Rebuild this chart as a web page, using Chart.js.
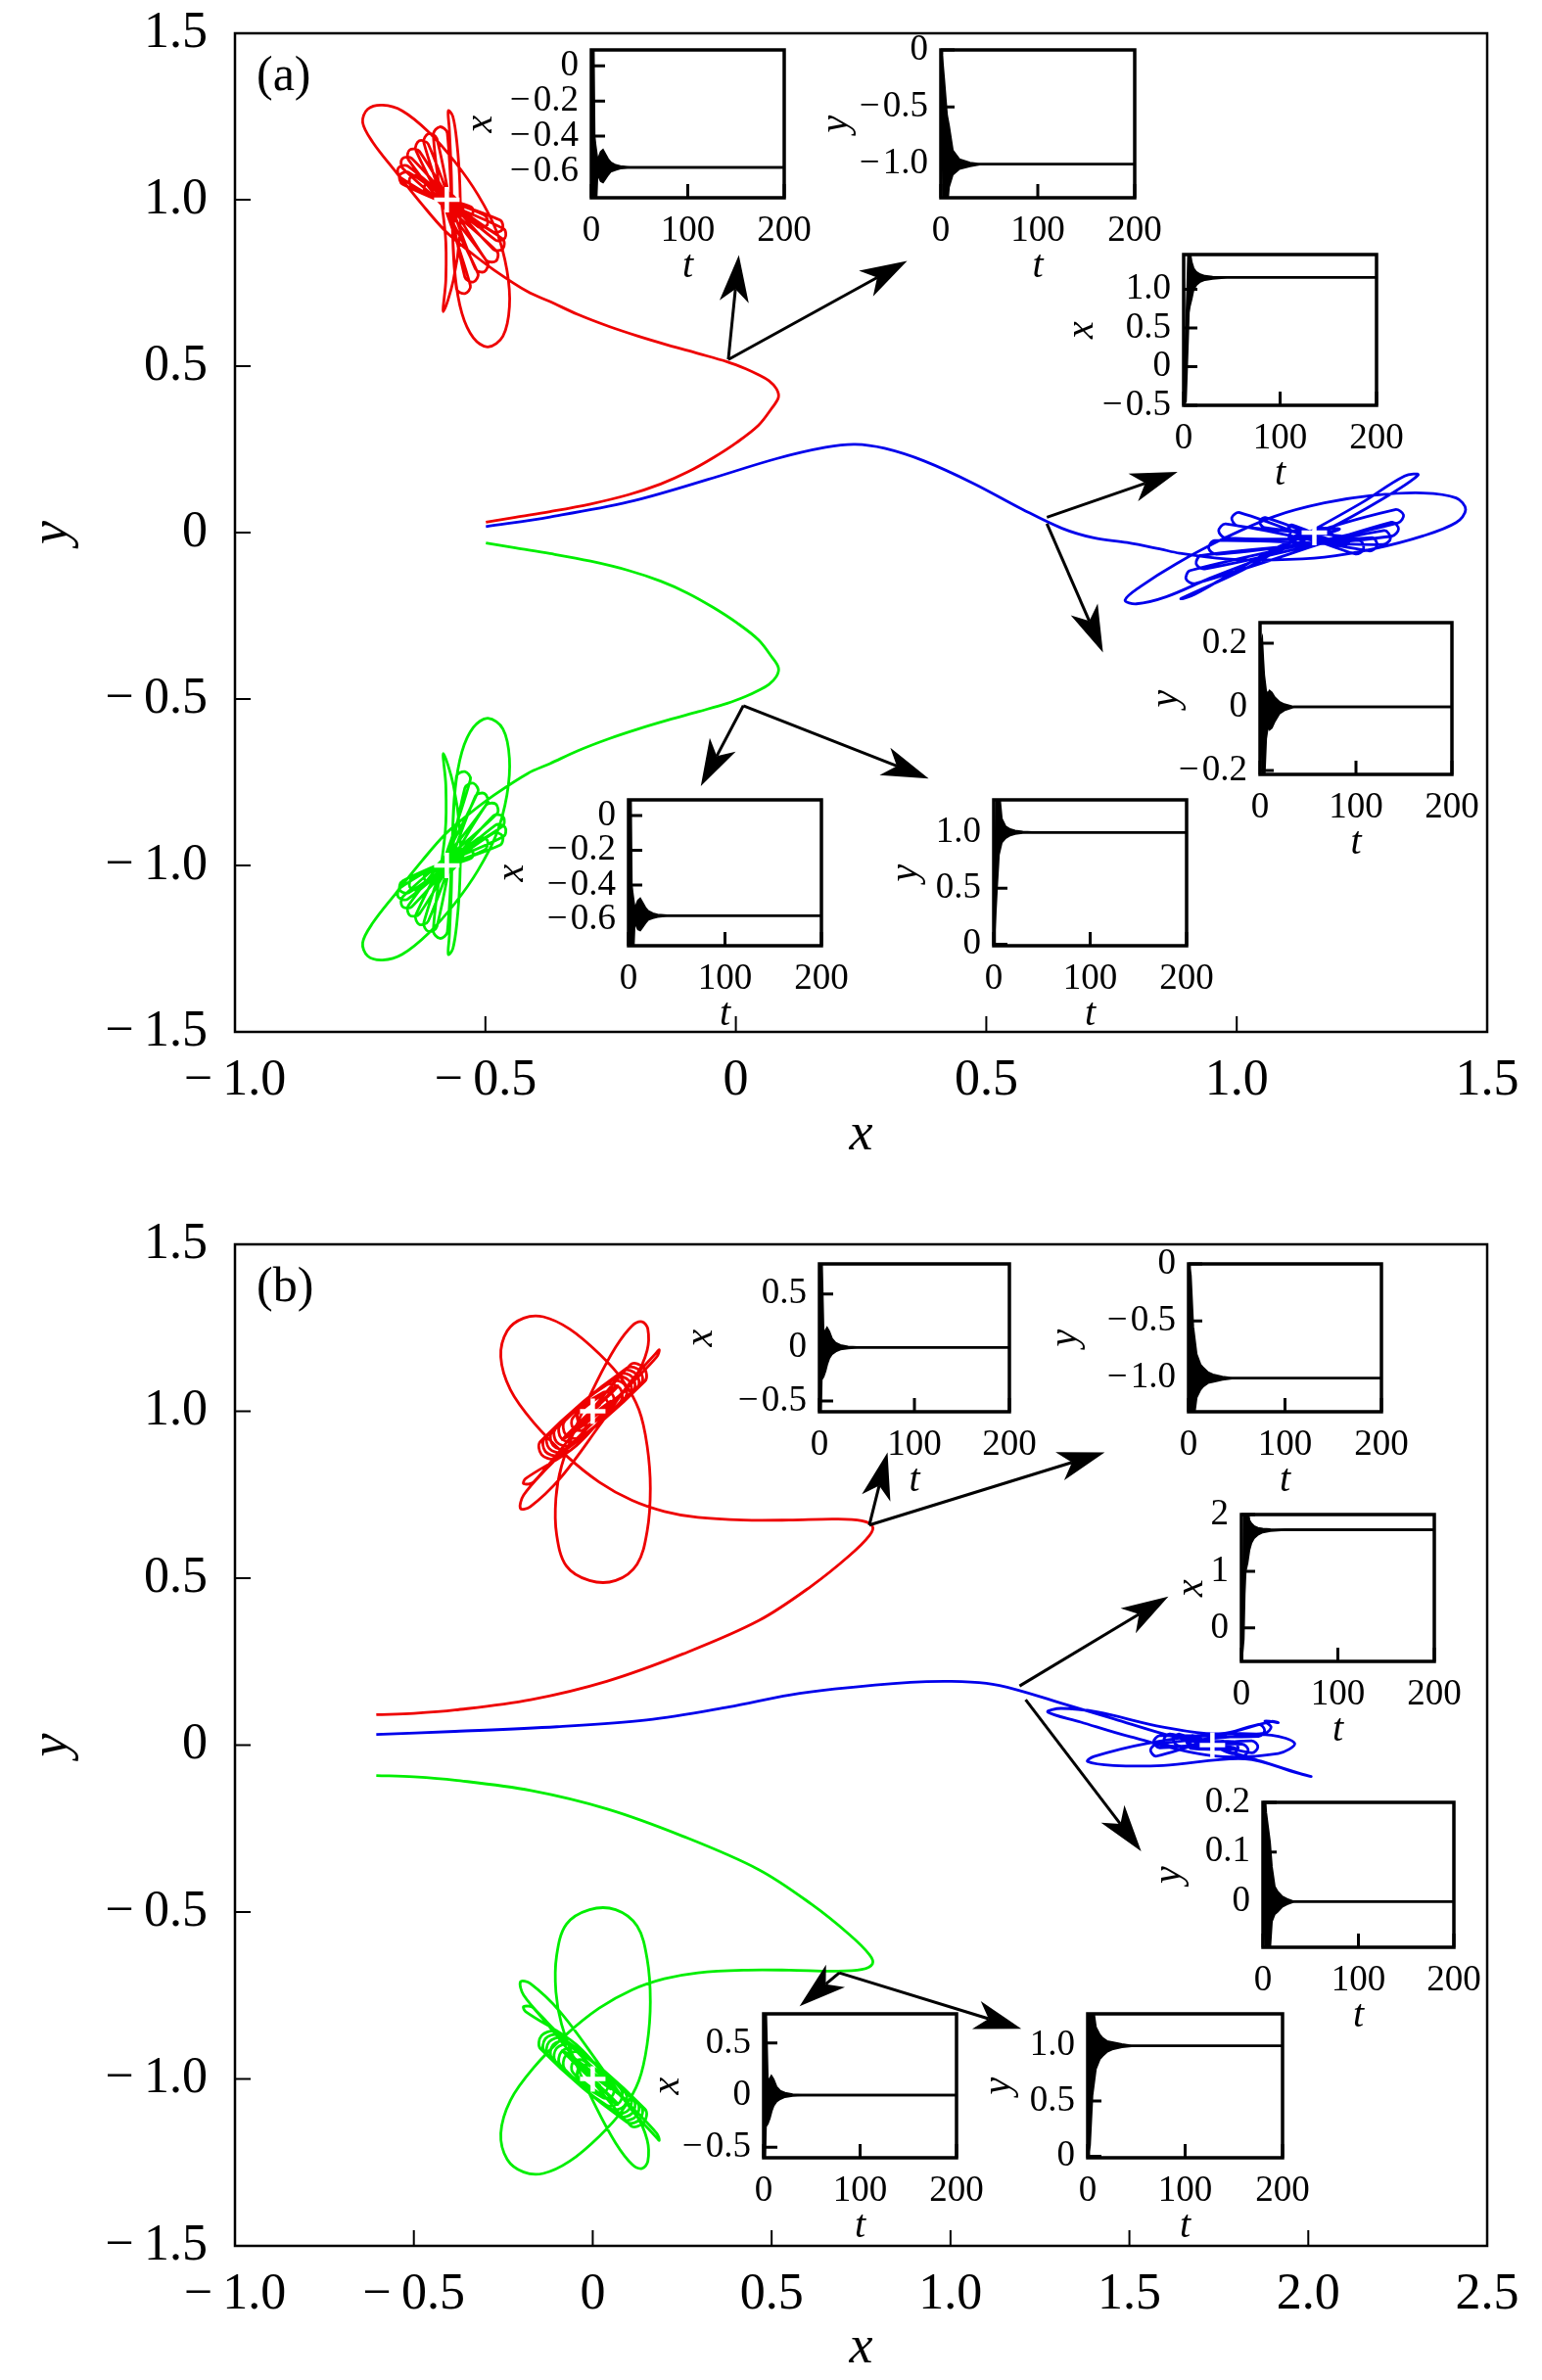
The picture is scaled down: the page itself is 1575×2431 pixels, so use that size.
<!DOCTYPE html>
<html><head><meta charset="utf-8">
<script src="https://cdn.jsdelivr.net/npm/chart.js@4.4.1/dist/chart.umd.min.js"></script>
<style>
html,body{margin:0;padding:0;background:#fff;}
#page{position:relative;width:1575px;height:2431px;overflow:hidden;background:#fff;}
canvas{position:absolute;}
</style></head><body><div id="page"></div>
<script>
// ---------------- data ----------------
const M = '\u2212\u2009', m = '\u2212\u200A';
const xTicksA = [-1.0,-0.5,0,0.5,1.0,1.5];
const xLabelsA = [M+'1.0',M+'0.5','0','0.5','1.0','1.5'];
const xTicksB = [-1.0,-0.5,0,0.5,1.0,1.5,2.0,2.5];
const xLabelsB = [M+'1.0',M+'0.5','0','0.5','1.0','1.5','2.0','2.5'];
const yTicksMain = [-1.5,-1.0,-0.5,0,0.5,1.0,1.5];
const yLabelsMain = [M+'1.5',M+'1.0',M+'0.5','0','0.5','1.0','1.5'];

const redA = [[-0.499,0.031],[-0.44,0.046],[-0.371,0.063],[-0.29,0.086],[-0.214,0.114],[-0.15,0.146],[-0.096,0.182],[-0.045,0.225],[0.002,0.271],[0.045,0.322],[0.071,0.372],[0.085,0.406],[0.081,0.432],[0.066,0.456],[0.045,0.474],[0.02,0.492],[-0.017,0.513],[-0.075,0.538],[-0.135,0.563],[-0.195,0.59],[-0.253,0.619],[-0.315,0.655],[-0.371,0.694],[-0.416,0.724],[-0.482,0.788],[-0.534,0.847],[-0.58,0.906],[-0.626,0.985],[-0.679,1.084],[-0.725,1.173],[-0.745,1.232],[-0.735,1.272],[-0.705,1.284],[-0.666,1.267],[-0.613,1.203],[-0.561,1.114],[-0.515,1.015],[-0.478,0.906],[-0.457,0.788],[-0.452,0.679],[-0.465,0.59],[-0.495,0.558],[-0.524,0.585],[-0.547,0.659],[-0.561,0.778],[-0.566,0.926],[-0.568,1.074],[-0.572,1.212],[-0.574,1.267],[-0.565,1.25],[-0.557,1.173],[-0.551,1.044],[-0.551,0.896],[-0.564,0.758],[-0.584,0.664],[-0.579,0.76],[-0.58,0.896],
[-0.604,1.196],[-0.591,1.219],[-0.576,1.2],[-0.558,0.734],[-0.541,0.718],[-0.53,0.742],
[-0.623,1.172],[-0.614,1.198],[-0.597,1.184],[-0.541,0.767],[-0.524,0.753],[-0.515,0.779],
[-0.639,1.149],[-0.632,1.177],[-0.614,1.167],[-0.52,0.792],[-0.502,0.784],[-0.496,0.812],
[-0.654,1.121],[-0.651,1.15],[-0.632,1.146],[-0.499,0.819],[-0.479,0.816],[-0.477,0.845],
[-0.665,1.094],[-0.666,1.123],[-0.647,1.124],[-0.484,0.851],[-0.465,0.853],[-0.466,0.883],
[-0.67,1.067],[-0.674,1.095],[-0.655,1.101],[-0.48,0.879],[-0.461,0.885],[-0.464,0.913],
[-0.665,1.046],[-0.671,1.074],[-0.653,1.082],[-0.484,0.903],[-0.466,0.911],[-0.471,0.939],
[-0.645,1.036],[-0.651,1.065],[-0.633,1.072],[-0.514,0.918],[-0.496,0.925],[-0.502,0.954],
[-0.619,1.022],[-0.621,1.043],[-0.607,1.048],[-0.54,0.952],[-0.526,0.957],[-0.528,0.978],
[-0.596,1.01],[-0.598,1.02],[-0.589,1.022],[-0.565,0.978],[-0.556,0.98],[-0.557,0.99],
[-0.612,1.045],[-0.565,1.012],[-0.542,0.955],[-0.589,0.988],[-0.607,1.035],[-0.565,1.008],[-0.547,0.965],[-0.589,0.992],[-0.597,1.025],[-0.569,1.005],[-0.557,0.975],[-0.585,0.995],[-0.577,1.0]];

const greenA = [[-0.499,-0.031],[-0.44,-0.046],[-0.371,-0.063],[-0.29,-0.086],[-0.214,-0.114],[-0.15,-0.146],[-0.096,-0.182],[-0.045,-0.225],[0.002,-0.271],[0.045,-0.322],[0.071,-0.372],[0.085,-0.406],[0.081,-0.432],[0.066,-0.456],[0.045,-0.474],[0.02,-0.492],[-0.017,-0.513],[-0.075,-0.538],[-0.135,-0.563],[-0.195,-0.59],[-0.253,-0.619],[-0.315,-0.655],[-0.371,-0.694],[-0.416,-0.724],[-0.482,-0.788],[-0.534,-0.847],[-0.58,-0.906],[-0.626,-0.985],[-0.679,-1.084],[-0.725,-1.173],[-0.745,-1.232],[-0.735,-1.272],[-0.705,-1.284],[-0.666,-1.267],[-0.613,-1.203],[-0.561,-1.114],[-0.515,-1.015],[-0.478,-0.906],[-0.457,-0.788],[-0.452,-0.679],[-0.465,-0.59],[-0.495,-0.558],[-0.524,-0.585],[-0.547,-0.659],[-0.561,-0.778],[-0.566,-0.926],[-0.568,-1.074],[-0.572,-1.212],[-0.574,-1.267],[-0.565,-1.25],[-0.557,-1.173],[-0.551,-1.044],[-0.551,-0.896],[-0.564,-0.758],[-0.584,-0.664],[-0.579,-0.76],[-0.58,-0.896],
[-0.604,-1.196],[-0.591,-1.219],[-0.576,-1.2],[-0.558,-0.734],[-0.541,-0.718],[-0.53,-0.742],
[-0.623,-1.172],[-0.614,-1.198],[-0.597,-1.184],[-0.541,-0.767],[-0.524,-0.753],[-0.515,-0.779],
[-0.639,-1.149],[-0.632,-1.177],[-0.614,-1.167],[-0.52,-0.792],[-0.502,-0.784],[-0.496,-0.812],
[-0.654,-1.121],[-0.651,-1.15],[-0.632,-1.146],[-0.499,-0.819],[-0.479,-0.816],[-0.477,-0.845],
[-0.665,-1.094],[-0.666,-1.123],[-0.647,-1.124],[-0.484,-0.851],[-0.465,-0.853],[-0.466,-0.883],
[-0.67,-1.067],[-0.674,-1.095],[-0.655,-1.101],[-0.48,-0.879],[-0.461,-0.885],[-0.464,-0.913],
[-0.665,-1.046],[-0.671,-1.074],[-0.653,-1.082],[-0.484,-0.903],[-0.466,-0.911],[-0.471,-0.939],
[-0.645,-1.036],[-0.651,-1.065],[-0.633,-1.072],[-0.514,-0.918],[-0.496,-0.925],[-0.502,-0.954],
[-0.619,-1.022],[-0.621,-1.043],[-0.607,-1.048],[-0.54,-0.952],[-0.526,-0.957],[-0.528,-0.978],
[-0.596,-1.01],[-0.598,-1.02],[-0.589,-1.022],[-0.565,-0.978],[-0.556,-0.98],[-0.557,-0.99],
[-0.612,-1.045],[-0.565,-1.012],[-0.542,-0.955],[-0.589,-0.988],[-0.607,-1.035],[-0.565,-1.008],[-0.547,-0.965],[-0.589,-0.992],[-0.597,-1.025],[-0.569,-1.005],[-0.557,-0.975],[-0.585,-0.995],[-0.577,-1.0]];

const blueA = [[-0.499,0.018],[-0.371,0.047],[-0.214,0.092],[-0.057,0.159],[0.081,0.222],[0.179,0.256],[0.238,0.265],[0.297,0.253],[0.376,0.215],[0.474,0.148],[0.572,0.07],[0.651,0.013],[0.715,-0.016],[0.781,-0.03],[0.846,-0.049],[0.886,-0.062],[0.978,-0.079],[1.076,-0.082],[1.175,-0.074],[1.273,-0.049],[1.372,-0.01],[1.438,0.03],[1.457,0.069],[1.438,0.104],[1.372,0.119],[1.273,0.112],[1.175,0.089],[1.076,0.049],[0.978,-0.015],[0.879,-0.094],[0.807,-0.163],[0.777,-0.203],[0.8,-0.214],[0.859,-0.193],[0.945,-0.138],[1.06,-0.07],[1.175,0.005],[1.29,0.1],[1.362,0.173],[1.335,0.17],[1.25,0.09],[1.12,-0.02],[1.01,-0.114],[0.889,-0.198],[0.91,-0.19],[0.97,-0.14],[1.109,-0.025],
[1.316,0.069],[1.333,0.053],[1.322,0.029],[0.907,-0.114],[0.899,-0.14],[0.917,-0.153],
[1.309,0.031],[1.323,0.011],[1.309,-0.011],[0.929,-0.069],[0.919,-0.094],[0.936,-0.109],
[1.294,0.006],[1.307,-0.017],[1.292,-0.036],[0.956,-0.024],[0.944,-0.047],[0.96,-0.065],
[1.27,-0.015],[1.28,-0.039],[1.264,-0.055],[0.978,0.026],[0.964,0.005],[0.978,-0.016],
[1.245,-0.024],[1.253,-0.051],[1.236,-0.064],[1.006,0.06],[0.99,0.044],[1.002,0.02],
[1.216,-0.012],[1.224,-0.028],[1.212,-0.038],[1.057,0.045],[1.046,0.033],[1.055,0.015],
[1.189,-0.005],[1.194,-0.015],[1.187,-0.021],[1.11,0.023],[1.103,0.016],[1.108,0.007],
[1.105,-0.02],[1.165,0.012],[1.205,0.01],[1.145,-0.012],[1.11,-0.015],[1.165,0.01],[1.2,0.008],[1.145,-0.01],[1.125,-0.01],[1.163,0.006],[1.185,0.005],[1.147,-0.006],[1.155,0.0]];

const redB = [[-0.605,0.091],[-0.5,0.095],[-0.385,0.105],[-0.173,0.136],[0.039,0.191],[0.252,0.273],[0.464,0.373],[0.612,0.477],[0.718,0.568],[0.773,0.627],[0.782,0.655],[0.752,0.672],[0.676,0.677],[0.549,0.674],[0.421,0.674],[0.294,0.682],[0.2,0.7],[0.11,0.733],[0.018,0.788],[-0.074,0.867],[-0.165,0.966],[-0.23,1.064],[-0.257,1.163],[-0.239,1.241],[-0.193,1.279],[-0.138,1.283],[-0.064,1.246],[0.018,1.172],[0.083,1.094],[0.129,1.005],[0.152,0.897],[0.161,0.769],[0.152,0.64],[0.124,0.542],[0.064,0.493],[-0.009,0.493],[-0.074,0.537],[-0.101,0.631],[-0.103,0.739],[-0.087,0.837],[-0.046,0.956],[0.009,1.084],[0.064,1.192],[0.11,1.256],[0.138,1.268],[0.154,1.246],[0.152,1.182],[0.119,1.103],[0.055,1.025],[-0.037,0.926],[-0.129,0.828],[-0.193,0.749],[-0.202,0.709],[-0.175,0.714],[-0.092,0.798],[0.018,0.956],[0.11,1.094],[0.175,1.172],[0.186,1.184],[0.179,1.163],[0.092,1.064],[-0.046,0.897],[-0.188,0.798],[-0.193,0.783],[-0.165,0.788],
[0.106,1.14],[0.143,1.13],[0.146,1.09],[-0.106,0.86],[-0.143,0.87],[-0.146,0.91],
[0.096,1.13],[0.132,1.121],[0.135,1.081],[-0.096,0.87],[-0.132,0.879],[-0.135,0.919],
[0.085,1.121],[0.122,1.111],[0.125,1.071],[-0.085,0.879],[-0.122,0.889],[-0.125,0.929],
[0.075,1.111],[0.111,1.102],[0.114,1.062],[-0.075,0.889],[-0.111,0.898],[-0.114,0.938],
[0.064,1.102],[0.101,1.092],[0.104,1.052],[-0.064,0.898],[-0.101,0.908],[-0.104,0.948],
[0.052,1.09],[0.088,1.081],[0.091,1.041],[-0.052,0.91],[-0.088,0.919],[-0.091,0.959],
[0.039,1.079],[0.076,1.069],[0.078,1.029],[-0.039,0.921],[-0.076,0.931],[-0.078,0.971],
[0.028,1.056],[0.055,1.05],[0.056,1.02],[-0.028,0.944],[-0.055,0.95],[-0.056,0.98],
[0.011,1.041],[0.038,1.035],[0.04,1.005],[-0.011,0.959],[-0.038,0.965],[-0.04,0.995],
[0.07,1.075],[-0.085,0.915],[0.09,1.06],[-0.07,0.93],[0.06,1.065],[-0.075,0.92],[0.08,1.05],[-0.06,0.94],[0.04,1.045],[-0.045,0.955],[0.05,1.03],[-0.035,0.965],[0.02,1.02],[-0.02,0.98],[0.0,1.0]];

const greenB = [[-0.605,-0.091],[-0.5,-0.095],[-0.385,-0.105],[-0.173,-0.136],[0.039,-0.191],[0.252,-0.273],[0.464,-0.373],[0.612,-0.477],[0.718,-0.568],[0.773,-0.627],[0.782,-0.655],[0.752,-0.672],[0.676,-0.677],[0.549,-0.674],[0.421,-0.674],[0.294,-0.682],[0.2,-0.7],[0.11,-0.733],[0.018,-0.788],[-0.074,-0.867],[-0.165,-0.966],[-0.23,-1.064],[-0.257,-1.163],[-0.239,-1.241],[-0.193,-1.279],[-0.138,-1.283],[-0.064,-1.246],[0.018,-1.172],[0.083,-1.094],[0.129,-1.005],[0.152,-0.897],[0.161,-0.769],[0.152,-0.64],[0.124,-0.542],[0.064,-0.493],[-0.009,-0.493],[-0.074,-0.537],[-0.101,-0.631],[-0.103,-0.739],[-0.087,-0.837],[-0.046,-0.956],[0.009,-1.084],[0.064,-1.192],[0.11,-1.256],[0.138,-1.268],[0.154,-1.246],[0.152,-1.182],[0.119,-1.103],[0.055,-1.025],[-0.037,-0.926],[-0.129,-0.828],[-0.193,-0.749],[-0.202,-0.709],[-0.175,-0.714],[-0.092,-0.798],[0.018,-0.956],[0.11,-1.094],[0.175,-1.172],[0.186,-1.184],[0.179,-1.163],[0.092,-1.064],[-0.046,-0.897],[-0.188,-0.798],[-0.193,-0.783],[-0.165,-0.788],
[0.106,-1.14],[0.143,-1.13],[0.146,-1.09],[-0.106,-0.86],[-0.143,-0.87],[-0.146,-0.91],
[0.096,-1.13],[0.132,-1.121],[0.135,-1.081],[-0.096,-0.87],[-0.132,-0.879],[-0.135,-0.919],
[0.085,-1.121],[0.122,-1.111],[0.125,-1.071],[-0.085,-0.879],[-0.122,-0.889],[-0.125,-0.929],
[0.075,-1.111],[0.111,-1.102],[0.114,-1.062],[-0.075,-0.889],[-0.111,-0.898],[-0.114,-0.938],
[0.064,-1.102],[0.101,-1.092],[0.104,-1.052],[-0.064,-0.898],[-0.101,-0.908],[-0.104,-0.948],
[0.052,-1.09],[0.088,-1.081],[0.091,-1.041],[-0.052,-0.91],[-0.088,-0.919],[-0.091,-0.959],
[0.039,-1.079],[0.076,-1.069],[0.078,-1.029],[-0.039,-0.921],[-0.076,-0.931],[-0.078,-0.971],
[0.028,-1.056],[0.055,-1.05],[0.056,-1.02],[-0.028,-0.944],[-0.055,-0.95],[-0.056,-0.98],
[0.011,-1.041],[0.038,-1.035],[0.04,-1.005],[-0.011,-0.959],[-0.038,-0.965],[-0.04,-0.995],
[0.07,-1.075],[-0.085,-0.915],[0.09,-1.06],[-0.07,-0.93],[0.06,-1.065],[-0.075,-0.92],[0.08,-1.05],[-0.06,-0.94],[0.04,-1.045],[-0.045,-0.955],[0.05,-1.03],[-0.035,-0.965],[0.02,-1.02],[-0.02,-0.98],[0.0,-1.0]];

const blueB = [[-0.605,0.032],[-0.385,0.041],[-0.1,0.055],[0.15,0.075],[0.379,0.114],[0.55,0.15],[0.676,0.168],[0.888,0.188],[1.003,0.191],[1.1,0.185],[1.181,0.167],[1.318,0.123],[1.456,0.079],[1.594,0.034],[1.732,-0.005],[1.87,-0.049],[1.989,-0.089],[2.008,-0.094],[1.971,-0.084],[1.824,-0.041],[1.594,-0.061],[1.456,-0.061],[1.383,-0.049],[1.401,-0.034],[1.548,0.005],[1.732,0.032],[1.897,0.03],[1.962,0.005],[1.916,-0.025],[1.732,-0.032],[1.502,0.025],[1.364,0.069],[1.272,0.099],[1.309,0.11],[1.41,0.099],[1.594,0.054],[1.75,0.034],[1.897,0.071],[1.916,0.067],
[1.879,0.072],[1.896,0.054],[1.879,0.036],[1.576,0.003],[1.559,-0.015],[1.576,-0.033],
[1.861,0.062],[1.878,0.044],[1.861,0.026],[1.585,0.028],[1.568,0.01],[1.585,-0.008],
[1.842,0.013],[1.859,-0.005],[1.842,-0.023],[1.613,0.033],[1.596,0.015],[1.613,-0.003],
[1.815,0.003],[1.832,-0.015],[1.815,-0.033],[1.64,0.033],[1.623,0.015],[1.64,-0.003],
[1.787,0.01],[1.804,-0.008],[1.787,-0.026],[1.677,0.028],[1.66,0.01],[1.677,-0.008],
[1.762,0.012],[1.774,0],[1.762,-0.012],[1.702,0.012],[1.69,0],[1.702,-0.012],
[1.66,0.012],[1.8,-0.01],[1.67,-0.01],[1.79,0.01],[1.69,0.008],[1.775,-0.008],[1.7,-0.006],[1.765,0.006],[1.732,0.0]];

const equilibriaA = [[-0.577,1.0],[1.155,0.0],[-0.577,-1.0]];
const equilibriaB = [[0.0,1.0],[1.732,0.0],[0.0,-1.0]];

const arrowsA = [[[-0.015,0.52],[0.006,0.834]],[[-0.015,0.52],[0.342,0.816]],[[0.621,0.046],[0.882,0.182]],[[0.621,0.027],[0.733,-0.36]],[[0.015,-0.52],[-0.07,-0.762]],[[0.015,-0.52],[0.385,-0.739]]];
const arrowsB = [[[0.773,0.659],[0.824,0.877]],[[0.773,0.659],[1.431,0.877]],[[1.193,0.177],[1.609,0.445]],[[1.21,0.136],[1.533,-0.318]],[[0.689,-0.682],[0.578,-0.782]],[[0.689,-0.682],[1.198,-0.85]]];

// inset time series: upper / lower envelope of the dense oscillation
const insetTTicks = [0,100,200];
const insetTLabels = ['0','100','200'];

const a1T  = [0,1,2,3,4,6,8,10,12,14,17,20,25,30,40,200];
const a1Up = [-0.5,0.2,0.2,-0.4,-0.45,-0.53,-0.52,-0.49,-0.48,-0.5,-0.53,-0.55,-0.565,-0.572,-0.577,-0.577];
const a1Lo = [-0.5,-0.5,-0.9,-0.9,-0.9,-0.62,-0.63,-0.655,-0.66,-0.645,-0.62,-0.6,-0.59,-0.582,-0.577,-0.577];
const a2T  = [0,1,3,6,8,12,19,30,40,200];
const a2Up = [0,-0.05,-0.25,-0.57,-0.66,-0.88,-0.96,-0.99,-1.0,-1.0];
const a2Lo = [0,-0.4,-1.4,-1.4,-1.2,-1.09,-1.04,-1.015,-1.0,-1.0];
const a3T  = [0,2,4,5,6,8,10,13,17,22,30,45,200];
const a3Up = [-0.5,0.2,1.0,1.5,1.5,1.35,1.27,1.22,1.19,1.17,1.16,1.155,1.155];
const a3Lo = [-0.5,-0.45,0.3,0.7,0.78,0.88,1.0,1.06,1.1,1.125,1.14,1.155,1.155];
const a4T  = [0,1,2,3,4,6,8,10,12,15,20,25,35,200];
const a4Up = [0.02,0.2,0.21,0.15,0.1,0.05,0.04,0.05,0.045,0.03,0.015,0.008,0,0];
const a4Lo = [0.02,0,-0.1,-0.25,-0.25,-0.1,-0.06,-0.07,-0.065,-0.045,-0.02,-0.01,0,0];
const a5T  = [0,1,2,3,4,6,8,10,12,14,17,20,25,30,40,200];
const a5Up = [-0.5,0.2,0.2,-0.4,-0.45,-0.53,-0.52,-0.49,-0.48,-0.5,-0.53,-0.55,-0.565,-0.572,-0.577,-0.577];
const a5Lo = [-0.5,-0.5,-0.9,-0.9,-0.9,-0.62,-0.63,-0.655,-0.66,-0.645,-0.62,-0.6,-0.59,-0.582,-0.577,-0.577];
const a6T  = [0,1,3,5,8,12,17,22,30,40,200];
const a6Up = [0,0.3,1.4,1.4,1.12,1.05,1.025,1.012,1.004,1.0,1.0];
const a6Lo = [0,0,0.5,0.8,0.91,0.95,0.975,0.988,0.996,1.0,1.0];
const b1T  = [0,1,2,4,6,8,10,13,17,22,30,40,200];
const b1Up = [-0.6,0.1,0.9,0.12,0.15,0.18,0.15,0.08,0.04,0.02,0.005,0,0];
const b1Lo = [-0.6,-0.7,-0.3,-0.27,-0.22,-0.15,-0.1,-0.06,-0.035,-0.015,-0.005,0,0];
const b2T  = [0,1,2,4.5,8,12,15,20,25,35,45,200];
const b2Up = [0,-0.04,-0.1,-0.55,-0.79,-0.88,-0.91,-0.95,-0.97,-0.99,-1.0,-1.0];
const b2Lo = [0,-0.6,-1.4,-1.4,-1.17,-1.1,-1.07,-1.04,-1.03,-1.012,-1.0,-1.0];
const b3T  = [0,2,3,4,6,8,10,13,17,22,30,45,200];
const b3Up = [-0.6,0.5,2.1,2.1,2.1,1.9,1.84,1.79,1.76,1.745,1.737,1.732,1.732];
const b3Lo = [-0.6,-0.2,0.6,1.0,1.15,1.38,1.5,1.59,1.65,1.69,1.715,1.732,1.732];
const b4T  = [0,1,2,3,5,7,9,12,15,20,25,32,200];
const b4Up = [0.032,0.21,0.21,0.18,0.15,0.12,0.07,0.03,0.02,0.01,0.005,0,0];
const b4Lo = [0.032,0,-0.05,-0.1,-0.1,-0.1,-0.04,-0.025,-0.02,-0.01,-0.005,0,0];
const b5T  = [0,1,2,4,6,8,10,13,17,22,30,40,200];
const b5Up = [-0.6,0.1,0.9,0.12,0.15,0.18,0.15,0.08,0.04,0.02,0.005,0,0];
const b5Lo = [-0.6,-0.7,-0.3,-0.27,-0.22,-0.15,-0.1,-0.06,-0.035,-0.015,-0.005,0,0];
const b6T  = [0,1,2,4.5,8,12,15,20,25,35,45,200];
const b6Up = [0,0.6,1.4,1.4,1.17,1.1,1.07,1.04,1.03,1.012,1.0,1.0];
const b6Lo = [0,0.04,0.1,0.55,0.79,0.88,0.91,0.95,0.97,0.99,1.0,1.0];

const ticksX06 = [0,-0.2,-0.4,-0.6], labelsX06 = ['0',m+'0.2',m+'0.4',m+'0.6'];
const ticksY10n = [0,-0.5,-1.0], labelsY10n = ['0',m+'0.5',m+'1.0'];
const ticksX115 = [1.0,0.5,0,-0.5], labelsX115 = ['1.0','0.5','0',m+'0.5'];
const ticksY02 = [0.2,0,-0.2], labelsY02 = ['0.2','0',m+'0.2'];
const ticksY10p = [1.0,0.5,0], labelsY10p = ['1.0','0.5','0'];
const ticksX05 = [0.5,0,-0.5], labelsX05 = ['0.5','0',m+'0.5'];
const ticksX2 = [2,1,0], labelsX2 = ['2','1','0'];
const ticksY01 = [0.2,0.1,0], labelsY01 = ['0.2','0.1','0'];

// ---------------- layout / style ----------------
const FONT = '"Liberation Serif", "DejaVu Serif", serif';
const RED = 'rgb(238,0,0)', BLUE = 'rgb(0,0,235)', GREEN = 'rgb(0,238,0)';
const page = document.getElementById('page');
const toXY = a => a.map(p => ({x:p[0], y:p[1]}));
const series = (t, v) => t.map((tt,i) => ({x:tt, y:v[i]}));

function drawArrow(ctx, x0, y0, x1, y1){
  const ang = Math.atan2(y1-y0, x1-x0);
  const L = 48, W = 15, N = 13;
  const bx = x1 - (L-N)*Math.cos(ang), by = y1 - (L-N)*Math.sin(ang);
  ctx.beginPath(); ctx.moveTo(x0,y0); ctx.lineTo(bx,by);
  ctx.lineWidth = 3; ctx.strokeStyle = '#000'; ctx.stroke();
  ctx.save(); ctx.translate(x1,y1); ctx.rotate(ang);
  ctx.beginPath(); ctx.moveTo(0,0); ctx.lineTo(-L,W); ctx.lineTo(-L+N,0); ctx.lineTo(-L,-W); ctx.closePath();
  ctx.fillStyle = '#000'; ctx.fill(); ctx.restore();
}

function makeMain(cfg){
  const c = document.createElement('canvas');
  c.width = 1575; c.height = cfg.h;
  c.style.left = '0px'; c.style.top = cfg.top + 'px';
  c.style.width = '1575px'; c.style.height = cfg.h + 'px';
  page.appendChild(c);
  const decor = {
    id: 'decor',
    afterDatasetsDraw(chart){
      const ctx = chart.ctx, xs = chart.scales.x, ys = chart.scales.y;
      ctx.save();
      cfg.arrows.forEach(a => drawArrow(ctx, xs.getPixelForValue(a[0][0]), ys.getPixelForValue(a[0][1]), xs.getPixelForValue(a[1][0]), ys.getPixelForValue(a[1][1])));
      ctx.restore();
    },
    afterDraw(chart){
      const ctx = chart.ctx, ca = chart.chartArea, xs = chart.scales.x, ys = chart.scales.y;
      ctx.save();
      ctx.strokeStyle = '#000'; ctx.lineWidth = 2.5;
      ctx.strokeRect(ca.left, ca.top, ca.right-ca.left, ca.bottom-ca.top);
      ctx.lineWidth = 2;
      ctx.beginPath();
      cfg.xt.forEach(v => { const p = xs.getPixelForValue(v); ctx.moveTo(p, ca.bottom); ctx.lineTo(p, ca.bottom-16); });
      yTicksMain.forEach(v => { const p = ys.getPixelForValue(v); ctx.moveTo(ca.left, p); ctx.lineTo(ca.left+16, p); });
      ctx.stroke();
      ctx.fillStyle = '#000'; ctx.font = '50px ' + FONT; ctx.textBaseline = 'middle'; ctx.textAlign = 'left';
      ctx.fillText(cfg.label, ca.left + 22, ca.top + 45);
      ctx.restore();
    }
  };
  const datasets = [{data: toXY(cfg.eq), showLine:false, pointStyle:'cross', pointRadius:13, pointHoverRadius:13,
                     pointBorderColor:'#fff', pointBackgroundColor:'#fff', pointBorderWidth:4.5, order:0}];
  cfg.curves.forEach(cv => datasets.push({data: toXY(cv[0]), borderColor: cv[1], borderWidth: 2.8,
                     pointRadius:0, tension:0.35, fill:false, order:1}));
  new Chart(c, {
    type:'line',
    data:{datasets},
    options:{
      responsive:false, animation:false, devicePixelRatio:1, events:[],
      layout:{padding:{top:cfg.area[0], right:1575-cfg.area[2], left:0, bottom:0}},
      plugins:{legend:{display:false}, tooltip:{enabled:false}},
      scales:{
        x:{type:'linear', min:cfg.xr[0], max:cfg.xr[1], grid:{display:false}, border:{display:false},
           afterBuildTicks: s => { s.ticks = cfg.xt.map(v => ({value:v})); },
           afterFit: s => { s.height = cfg.h - cfg.area[1]; s.paddingLeft = 0; s.paddingRight = 0; },
           ticks:{autoSkip:false, maxRotation:0, padding:11, color:'#000', font:{family:FONT, size:52}, callback:(v,i)=>cfg.xl[i]},
           title:{display:true, text:'x', color:'#000', font:{family:FONT, size:54, style:'italic'}, padding:{top:0, bottom:cfg.xTitlePad}}},
        y:{type:'linear', min:-1.5, max:1.5, grid:{display:false}, border:{display:false},
           afterBuildTicks: s => { s.ticks = yTicksMain.map(v => ({value:v})); },
           afterFit: s => { s.width = 240; s.paddingTop = 0; s.paddingBottom = 0; },
           ticks:{autoSkip:false, padding:20, color:'#000', font:{family:FONT, size:52}, callback:(v,i)=>yLabelsMain[i]},
           title:{display:true, text:'y', color:'#000', font:{family:FONT, size:54, style:'italic'}, padding:{top:21, bottom:0}}}
      }
    },
    plugins:[decor]
  });
}

function makeInset(ins){
  const [L0,T0,R0,B0] = ins.frame;
  const LP = 150, TP = 26, RP = 46, BP = 100;
  const w = R0-L0+LP+RP, h = B0-T0+TP+BP;
  const c = document.createElement('canvas');
  c.width = w; c.height = h;
  c.style.left = (L0-LP)+'px'; c.style.top = (T0-TP)+'px';
  c.style.width = w+'px'; c.style.height = h+'px';
  page.appendChild(c);
  const frame = {
    id:'frame',
    afterDraw(chart){
      const ctx = chart.ctx, ca = chart.chartArea, xs = chart.scales.x, ys = chart.scales.y;
      ctx.save(); ctx.strokeStyle = '#000';
      ctx.lineWidth = 3.5;
      ctx.strokeRect(ca.left, ca.top, ca.right-ca.left, ca.bottom-ca.top);
      ctx.lineWidth = 3;
      ctx.beginPath();
      ins.yt.forEach(v => { const p = ys.getPixelForValue(v); ctx.moveTo(ca.left, p); ctx.lineTo(ca.left+14, p); });
      insetTTicks.forEach(v => { const p = xs.getPixelForValue(v); ctx.moveTo(p, ca.bottom); ctx.lineTo(p, ca.bottom-14); });
      ctx.stroke(); ctx.restore();
    }
  };
  new Chart(c, {
    type:'line',
    data:{datasets:[
      {data: series(ins.t, ins.up), borderColor:'#000', borderWidth:2.5, pointRadius:0, tension:0, fill:false},
      {data: series(ins.t, ins.lo), borderColor:'#000', borderWidth:2.5, pointRadius:0, tension:0, fill:'-1', backgroundColor:'#000'}
    ]},
    options:{
      responsive:false, animation:false, devicePixelRatio:1, events:[],
      layout:{padding:{top:TP, right:RP, left:0, bottom:0}},
      plugins:{legend:{display:false}, tooltip:{enabled:false}},
      scales:{
        x:{type:'linear', min:0, max:200, grid:{display:false}, border:{display:false},
           afterBuildTicks: s => { s.ticks = insetTTicks.map(v => ({value:v})); },
           afterFit: s => { s.height = BP; s.paddingLeft = 0; s.paddingRight = 0; },
           ticks:{autoSkip:false, maxRotation:0, padding:4, color:'#000', font:{family:FONT, size:37}, callback:(v,i)=>insetTLabels[i]},
           title:{display:true, text:'t', color:'#000', font:{family:FONT, size:40, style:'italic'}, padding:{top:0, bottom:6}}},
        y:{type:'linear', min:ins.yr[0], max:ins.yr[1], grid:{display:false}, border:{display:false},
           afterBuildTicks: s => { s.ticks = ins.yt.map(v => ({value:v})); },
           afterFit: s => { s.width = LP; s.paddingTop = 0; s.paddingBottom = 0; },
           ticks:{autoSkip:false, padding:5, color:'#000', font:{family:FONT, size:37}, callback:(v,i)=>ins.yl[i]},
           title:{display:true, text:ins.lab, color:'#000', font:{family:FONT, size:40, style:'italic'}, padding:{top:LP-ins.d-24, bottom:0}}}
      }
    },
    plugins:[frame]
  });
}

makeMain({top:0, h:1230, area:[34,1054,1519], xr:[-1,1.5], xt:xTicksA, xl:xLabelsA, xTitlePad:38,
          curves:[[greenA,GREEN],[blueA,BLUE],[redA,RED]], eq:equilibriaA, arrows:arrowsA, label:'(a)'});
makeMain({top:1230, h:1201, area:[41,1064,1519], xr:[-1,2.5], xt:xTicksB, xl:xLabelsB, xTitlePad:0,
          curves:[[greenB,GREEN],[blueB,BLUE],[redB,RED]], eq:equilibriaB, arrows:arrowsB, label:'(b)'});

const insets = [
  {frame:[604,51,801,202],    d:113, lab:'x', t:a1T, up:a1Up, lo:a1Lo, yr:[-0.75,0.09],   yt:ticksX06,  yl:labelsX06},
  {frame:[961,51,1159,202],   d:107, lab:'y', t:a2T, up:a2Up, lo:a2Lo, yr:[-1.294,0],     yt:ticksY10n, yl:labelsY10n},
  {frame:[1209,260,1406,414], d:104, lab:'x', t:a3T, up:a3Up, lo:a3Lo, yr:[-0.5,1.45],    yt:ticksX115, yl:labelsX115},
  {frame:[1287,636,1483,791], d:96,  lab:'y', t:a4T, up:a4Up, lo:a4Lo, yr:[-0.212,0.265], yt:ticksY02,  yl:labelsY02},
  {frame:[642,817,839,966],   d:119, lab:'x', t:a5T, up:a5Up, lo:a5Lo, yr:[-0.75,0.09],   yt:ticksX06,  yl:labelsX06},
  {frame:[1015,817,1212,966], d:90,  lab:'y', t:a6T, up:a6Up, lo:a6Lo, yr:[-0.014,1.29],  yt:ticksY10p, yl:labelsY10p},
  {frame:[837,1291,1031,1442],d:121, lab:'x', t:b1T, up:b1Up, lo:b1Lo, yr:[-0.6,0.78],    yt:ticksX05,  yl:labelsX05},
  {frame:[1214,1291,1411,1442],d:126,lab:'y', t:b2T, up:b2Up, lo:b2Lo, yr:[-1.294,0],     yt:ticksY10n, yl:labelsY10n},
  {frame:[1268,1547,1465,1697],d:51, lab:'x', t:b3T, up:b3Up, lo:b3Lo, yr:[-0.59,2.0],    yt:ticksX2,   yl:labelsX2},
  {frame:[1290,1841,1485,1989],d:96, lab:'y', t:b4T, up:b4Up, lo:b4Lo, yr:[-0.092,0.2],   yt:ticksY01,  yl:labelsY01},
  {frame:[780,2057,977,2204], d:98,  lab:'x', t:b5T, up:b5Up, lo:b5Lo, yr:[-0.6,0.78],    yt:ticksX05,  yl:labelsX05},
  {frame:[1111,2057,1310,2204],d:91, lab:'y', t:b6T, up:b6Up, lo:b6Lo, yr:[-0.014,1.29],  yt:ticksY10p, yl:labelsY10p}
];
insets.forEach(makeInset);
</script></body></html>
